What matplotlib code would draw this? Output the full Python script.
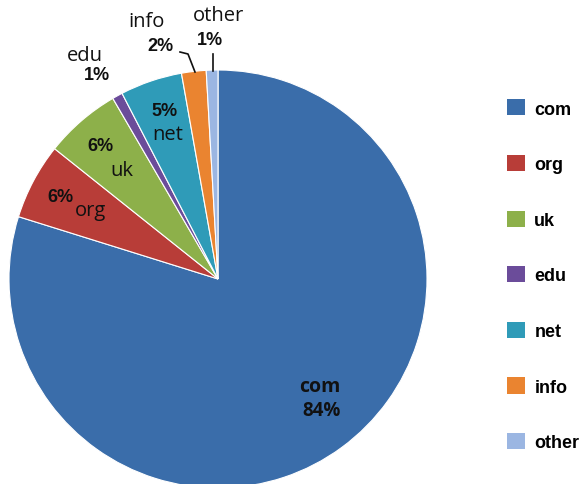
import matplotlib
matplotlib.use("Agg")
import matplotlib.pyplot as plt

# domain shares (as measured from slice angles) and the printed labels
domains = ["com", "org", "uk", "edu", "net", "info", "other"]
shares = [79.9, 5.9, 5.9, 0.8, 4.8, 1.9, 0.9]
pct_labels = ["84%", "6%", "6%", "1%", "5%", "2%", "1%"]
colors = ["#3a6daa", "#b83d38", "#8db04a", "#6b4c9a", "#2f9bb8", "#ea8430", "#9bb6e2"]

W, H = 583, 485
CX, CY, R = 218, 280, 209

fig = plt.figure(figsize=(W / 100, H / 100), dpi=100)
ax = fig.add_axes([(CX - R) / W, (H - CY - R) / H, 2 * R / W, 2 * R / H])

wedges, _ = ax.pie(shares, colors=colors, startangle=90, counterclock=False,
                   radius=1, wedgeprops=dict(edgecolor="white", linewidth=0.8))
ax.set_xlim(-1, 1)
ax.set_ylim(-1, 1)


def px(x, y):
    # image pixel -> data coords
    return (x - CX) / R, (CY - y) / R


pct_font = dict(family="Liberation Sans", weight="bold", fontsize=13, color="#111111")
name_font = dict(family="Open Sans", fontsize=14.5, color="#111111")

# label positions (pixel centres)
pct_pos = {"com": (322, 411), "org": (60, 198), "uk": (100, 147), "edu": (97, 76),
           "net": (165, 112), "info": (160, 47), "other": (210, 41)}
name_pos = {"com": (320, 387), "org": (90, 211), "uk": (122, 171), "edu": (85, 56),
            "net": (168, 135), "info": (147, 22), "other": (218, 16)}

for name, pct in zip(domains, pct_labels):
    if name == "com":
        x, y = px(*name_pos[name])
        ax.text(x, y, name, ha="center", va="center", family="Open Sans",
                weight="bold", fontsize=14, color="#111111")
        x, y = px(*pct_pos[name])
        ax.text(x, y, pct, ha="center", va="center", family="Open Sans",
                weight="bold", fontsize=13.5, color="#111111")
        continue
    x, y = px(*pct_pos[name])
    ax.text(x, y, pct, ha="center", va="center", clip_on=False, **pct_font)
    x, y = px(*name_pos[name])
    ax.text(x, y, name, ha="center", va="center", clip_on=False, **name_font)

# leader lines for the tiny slices
for pts in ([(180, 53), (188, 55), (195, 73)], [(213, 55), (213, 72)]):
    xs, ys = zip(*[px(*p) for p in pts])
    ax.plot(xs, ys, color="#111111", lw=1.2, clip_on=False)

leg = fig.legend(wedges, domains, loc="upper left", bbox_to_anchor=(491 / W, 1 - 84 / H),
                 frameon=False, handlelength=1.0, handleheight=1.0, handletextpad=0.5,
                 labelspacing=2.07, prop=dict(family="Liberation Sans", weight="bold", size=13))
for h in leg.legend_handles:
    h.set_linewidth(0)

fig.savefig("out.png", dpi=100)
